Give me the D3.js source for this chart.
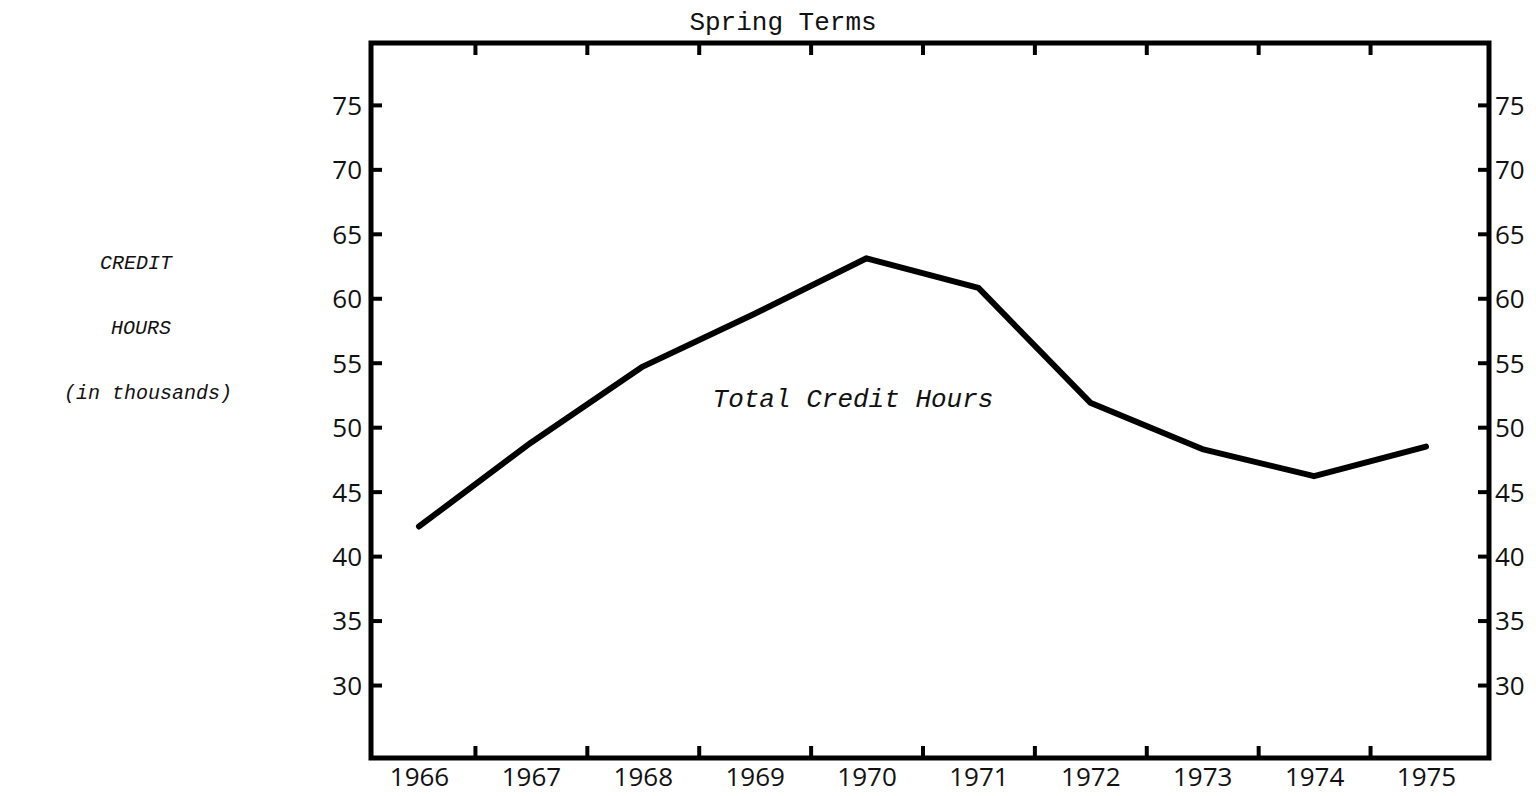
<!DOCTYPE html>
<html>
<head>
<meta charset="utf-8">
<script src="https://cdn.jsdelivr.net/npm/d3@7"></script>
<style>
  html, body { margin: 0; padding: 0; background: #fff; }
  svg { display: block; }
  .num text { font-family: "Open Sans", sans-serif; font-size: 26px; fill: #111; }
  .mono { font-family: "Liberation Mono", "DejaVu Sans Mono", monospace; fill: #111; }
</style>
</head>
<body>
<svg id="chart" width="1536" height="796"></svg>
<script>
const width = 1536;
const height = 796;
const frame = {left: 371, right: 1489, top: 43, bottom: 758};

// data (thousands of credit hours, spring terms)
const years = [1966, 1967, 1968, 1969, 1970, 1971, 1972, 1973, 1974, 1975];
const creditHours = [42.3, 48.8, 54.7, 58.8, 63.1, 60.8, 51.9, 48.3, 46.2, 48.5];
const yTicks = [30, 35, 40, 45, 50, 55, 60, 65, 70, 75];
const yearBreaks = [1966.5, 1967.5, 1968.5, 1969.5, 1970.5, 1971.5, 1972.5, 1973.5, 1974.5];

const svg = d3.select("#chart");

const x = d3.scaleLinear().domain([1966, 1975]).range([419, 1426]);
const y = d3.scaleLinear().domain([24.34, 79.8]).range([frame.bottom, frame.top]);

// the box
svg.append("rect")
  .attr("x", frame.left)
  .attr("y", frame.top)
  .attr("width", frame.right - frame.left)
  .attr("height", frame.bottom - frame.top)
  .attr("fill", "none")
  .attr("stroke", "#000")
  .attr("stroke-width", 5);

// left axis, ticks pointing in
const left = svg.append("g")
  .attr("class", "num")
  .attr("transform", `translate(${frame.left},0)`)
  .call(d3.axisLeft(y).tickValues(yTicks).tickSize(-11).tickSizeOuter(0).tickPadding(9));

// right axis
const right = svg.append("g")
  .attr("class", "num")
  .attr("transform", `translate(${frame.right},0)`)
  .call(d3.axisRight(y).tickValues(yTicks).tickSize(-11).tickSizeOuter(0).tickPadding(6));

// bottom: ticks between years, labels under each year
const bottomTicks = svg.append("g")
  .attr("transform", `translate(0,${frame.bottom})`)
  .call(d3.axisBottom(x).tickValues(yearBreaks).tickSize(-12).tickSizeOuter(0).tickFormat(""));

const bottomLabels = svg.append("g")
  .attr("class", "num")
  .attr("transform", `translate(0,${frame.bottom})`)
  .call(d3.axisBottom(x).tickValues(years).tickSize(0).tickPadding(11).tickFormat(d3.format("d")));

// top ticks
const topTicks = svg.append("g")
  .attr("transform", `translate(0,${frame.top})`)
  .call(d3.axisTop(x).tickValues(yearBreaks).tickSize(-12).tickSizeOuter(0).tickFormat(""));

[left, right, bottomTicks, bottomLabels, topTicks].forEach(g => {
  g.select(".domain").remove();
  g.selectAll(".tick line").attr("stroke", "#000").attr("stroke-width", 4);
});
bottomLabels.selectAll(".tick line").remove();
bottomLabels.selectAll(".tick text").attr("dy", "0.66em");
left.selectAll(".tick text").attr("dy", "0.36em");
right.selectAll(".tick text").attr("dy", "0.36em");

// the line
const line = d3.line()
  .x((d, i) => x(years[i]))
  .y(d => y(d));

svg.append("path")
  .datum(creditHours)
  .attr("fill", "none")
  .attr("stroke", "#000")
  .attr("stroke-width", 6)
  .attr("stroke-linejoin", "round")
  .attr("stroke-linecap", "round")
  .attr("d", line);

// titles
svg.append("text")
  .attr("class", "mono")
  .attr("x", 783)
  .attr("y", 30)
  .attr("text-anchor", "middle")
  .attr("font-size", 26)
  .text("Spring Terms");

svg.append("text")
  .attr("class", "mono")
  .attr("x", 853)
  .attr("y", 407)
  .attr("text-anchor", "middle")
  .attr("font-size", 26)
  .attr("font-style", "italic")
  .text("Total Credit Hours");

const yTitle = [
  {t: "CREDIT", cx: 136, cy: 269},
  {t: "HOURS", cx: 141, cy: 334},
  {t: "(in thousands)", cx: 148, cy: 399}
];
svg.selectAll("text.ytitle")
  .data(yTitle)
  .enter()
  .append("text")
  .attr("class", "mono ytitle")
  .attr("x", d => d.cx)
  .attr("y", d => d.cy)
  .attr("text-anchor", "middle")
  .attr("font-size", 20)
  .attr("font-style", "italic")
  .text(d => d.t);
</script>
</body>
</html>
